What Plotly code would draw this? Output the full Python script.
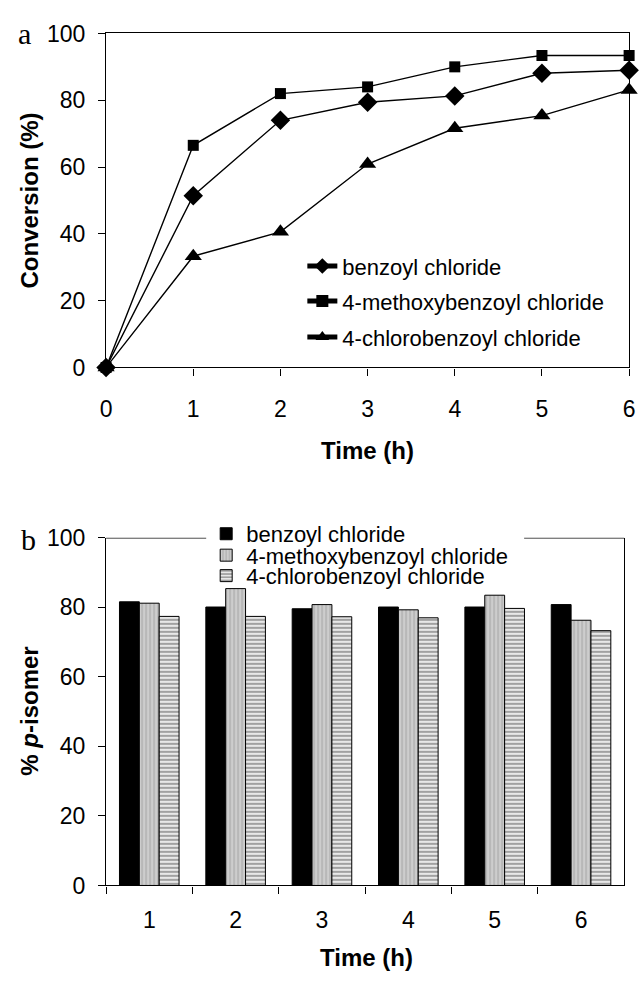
import plotly.graph_objects as go

# ---- data ----
time_h = [0, 1, 2, 3, 4, 5, 6]
conv_benzoyl = [0, 51.4, 74.0, 79.4, 81.3, 88.1, 89.0]
conv_methoxy = [0, 66.5, 82.0, 84.0, 90.0, 93.4, 93.4]
conv_chloro = [0, 33.3, 40.6, 60.9, 71.6, 75.4, 83.1]

time_cat = ["1", "2", "3", "4", "5", "6"]
para_benzoyl = [81.6, 80.1, 79.6, 80.1, 80.1, 80.8]
para_methoxy = [81.2, 85.4, 80.8, 79.3, 83.5, 76.3]
para_chloro = [77.4, 77.4, 77.3, 77.0, 79.7, 73.3]

names = ["benzoyl chloride", "4-methoxybenzoyl chloride", "4-chlorobenzoyl chloride"]
y_ticks = [0, 20, 40, 60, 80, 100]
x_ticks_a = [0, 1, 2, 3, 4, 5, 6]

W, H = 641, 990
FONT = "Liberation Sans"


def px_x(p):
    return p / W


def px_y(p):
    return 1 - p / H


fig = go.Figure()

# ---- panel a: conversion vs time ----
symbols = ["diamond", "square", "triangle-up"]
sizes = [15, 11, 15]
series_a = [conv_benzoyl, conv_methoxy, conv_chloro]
legend_ids_a = ["legend", "legend2", "legend3"]
for name, ys, sym, sz, lg in zip(names, series_a, symbols, sizes, legend_ids_a):
    fig.add_trace(go.Scatter(
        x=time_h, y=ys, name=name, mode="lines+markers",
        line=dict(color="black", width=1.4),
        marker=dict(symbol=sym, size=sz, color="black"),
        cliponaxis=False, xaxis="x", yaxis="y", legend=lg,
    ))

# ---- panel b: para-isomer selectivity ----
bar_styles = [
    dict(color="black", line=dict(color="black", width=1)),
    dict(color="#c4c4c4", line=dict(color="black", width=1),
         pattern=dict(shape="|", fgcolor="#f2f2f2", bgcolor="#b8b8b8", size=4, solidity=0.35)),
    dict(color="#dcdcdc", line=dict(color="black", width=1),
         pattern=dict(shape="-", fgcolor="#1a1a1a", bgcolor="#e8e8e8", size=4, solidity=0.35)),
]
series_b = [para_benzoyl, para_methoxy, para_chloro]
legend_ids_b = ["legend4", "legend5", "legend6"]
for name, ys, st, lg in zip(names, series_b, bar_styles, legend_ids_b):
    fig.add_trace(go.Bar(
        x=time_cat, y=ys, name=name, marker=st,
        xaxis="x2", yaxis="y2", legend=lg,
    ))

axis_common = dict(
    showline=True, linecolor="black", linewidth=1.3,
    ticks="outside", ticklen=7, tickwidth=1.2, tickcolor="black",
    showgrid=False, zeroline=False,
    tickfont=dict(family=FONT, size=23, color="black"),
)

fig.update_layout(
    width=W, height=H,
    margin=dict(l=0, r=0, t=0, b=0),
    paper_bgcolor="white", plot_bgcolor="white",
    font=dict(family=FONT, color="black"),
    barmode="group", bargap=0.31, bargroupgap=0,
    xaxis=dict(domain=[px_x(102), px_x(635)], range=[0, 6], tickvals=x_ticks_a,
               mirror=True, anchor="y", ticklabelstandoff=14, ticklabeloverflow="allow",
               **axis_common),
    yaxis=dict(domain=[px_y(364), px_y(21)], range=[0, 100], tickvals=y_ticks,
               mirror=True, anchor="x", ticklabelstandoff=8, **axis_common),
    xaxis2=dict(domain=[px_x(102), px_x(630)], range=[-0.5, 5.5], type="category",
                tickson="boundaries", mirror=False, anchor="y2", ticklabelstandoff=14,
                **axis_common),
    yaxis2=dict(domain=[px_y(896), px_y(539)], range=[0, 100], tickvals=y_ticks,
                mirror=True, anchor="x2", ticklabelstandoff=8, **axis_common),
    showlegend=True,
)

# legends: one entry each so rows can be spaced freely
leg_font = dict(family=FONT, size=22, color="black")
rows_a = [260, 296, 333]
rows_b = [535, 557, 578]
for lg, yy in zip(legend_ids_a, rows_a):
    fig.update_layout({lg: dict(x=px_x(302), y=px_y(yy), xanchor="left", yanchor="middle",
                                bgcolor="rgba(0,0,0,0)", font=leg_font, itemsizing="constant")})
for lg, yy in zip(legend_ids_b, rows_b):
    fig.update_layout({lg: dict(x=px_x(204), y=px_y(yy), xanchor="left", yanchor="middle",
                                bgcolor="rgba(0,0,0,0)", font=leg_font, itemwidth=30)})

# top border of panel b, interrupted where the legend sits
fig.add_shape(type="line", xref="x2 domain", yref="y2", x0=0, x1=(204 - 102) / (630 - 102),
              y0=100, y1=100, line=dict(color="black", width=1.3))
fig.add_shape(type="line", xref="x2 domain", yref="y2", x0=(528 - 102) / (630 - 102), x1=1,
              y0=100, y1=100, line=dict(color="black", width=1.3))

# axis titles and panel letters
title_font = dict(family=FONT, size=24, color="black")
fig.add_annotation(text="<b>Conversion (%)</b>", x=px_x(24), y=px_y(193), xref="paper", yref="paper",
                   textangle=-90, showarrow=False, font=title_font, xanchor="center", yanchor="middle")
fig.add_annotation(text="<b>Time (h)</b>", x=px_x(368), y=px_y(449), xref="paper", yref="paper",
                   showarrow=False, font=title_font, xanchor="center", yanchor="middle")
fig.add_annotation(text="<b>% <i>p</i>-isomer</b>", x=px_x(24), y=px_y(717), xref="paper", yref="paper",
                   textangle=-90, showarrow=False, font=title_font, xanchor="center", yanchor="middle")
fig.add_annotation(text="<b>Time (h)</b>", x=px_x(367), y=px_y(970), xref="paper", yref="paper",
                   showarrow=False, font=title_font, xanchor="center", yanchor="middle")
letter_font = dict(family="Liberation Serif", size=30, color="black")
fig.add_annotation(text="a", x=px_x(19), y=px_y(21), xref="paper", yref="paper",
                   showarrow=False, font=letter_font, xanchor="center", yanchor="middle")
fig.add_annotation(text="b", x=px_x(23), y=px_y(541), xref="paper", yref="paper",
                   showarrow=False, font=letter_font, xanchor="center", yanchor="middle")

fig.write_html("out.html")
